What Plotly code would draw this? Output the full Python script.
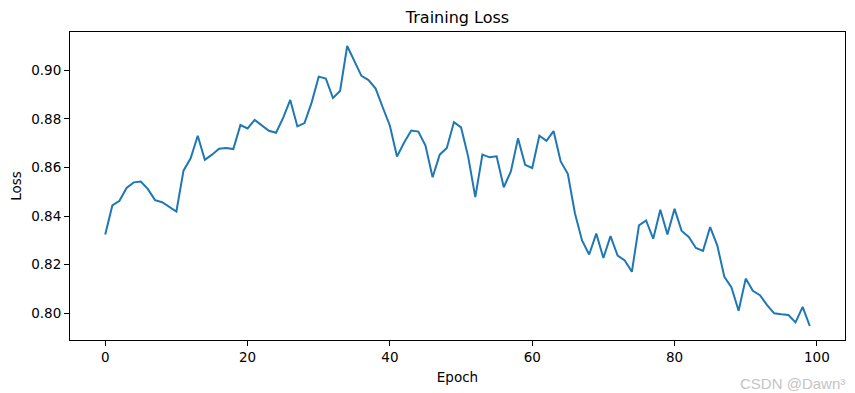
import plotly.graph_objects as go

epochs = list(range(100))
loss = [
    0.8324, 0.8444, 0.8463, 0.8516, 0.8539, 0.8542, 0.8511, 0.8466, 0.8457, 0.8438,
    0.8419, 0.8587, 0.8638, 0.8731, 0.8632, 0.8653, 0.8677, 0.8680, 0.8676, 0.8775,
    0.8761, 0.8796, 0.8775, 0.8751, 0.8743, 0.8804, 0.8878, 0.8769, 0.8783, 0.8867,
    0.8974, 0.8966, 0.8886, 0.8915, 0.9100, 0.9038, 0.8977, 0.8960, 0.8925, 0.8847,
    0.8772, 0.8645, 0.8703, 0.8752, 0.8748, 0.8690, 0.8560, 0.8653, 0.8680, 0.8787,
    0.8765, 0.8645, 0.8478, 0.8653, 0.8642, 0.8646, 0.8519, 0.8584, 0.8720, 0.8611,
    0.8598, 0.8731, 0.8710, 0.8750, 0.8625, 0.8574, 0.8412, 0.8300, 0.8242, 0.8328,
    0.8228, 0.8318, 0.8238, 0.8218, 0.8171, 0.8362, 0.8382, 0.8307, 0.8426, 0.8325,
    0.8430, 0.8339, 0.8314, 0.8269, 0.8257, 0.8355, 0.8280, 0.8150, 0.8107, 0.8011,
    0.8143, 0.8093, 0.8075, 0.8034, 0.8000, 0.7996, 0.7993, 0.7963, 0.8027, 0.7948,
]
x_ticks = [0, 20, 40, 60, 80, 100]
y_ticks = [0.80, 0.82, 0.84, 0.86, 0.88, 0.90]

font = "DejaVu Sans"
fig = go.Figure(go.Scatter(x=epochs, y=loss, mode="lines",
                           line=dict(color="#1f77b4", width=2)))

ymin, ymax = min(loss), max(loss)
pad = (ymax - ymin) * 0.05
xpad = (epochs[-1] - epochs[0]) * 0.05

axis_common = dict(showgrid=False, zeroline=False, showline=True, linecolor="black",
                   linewidth=1, mirror=True, ticks="outside", ticklen=5,
                   tickcolor="black", tickwidth=1, automargin=False,
                   tickfont=dict(family=font, size=13.5, color="black"))

# the page body has an 8px default margin, so the figure is 8px smaller
W, H = 847, 385
ML, MR, MT, MB = 62, 10, 24, 53
PW, PH = W - ML - MR, H - MT - MB
fig.update_layout(
    width=W, height=H,
    margin=dict(l=ML, r=MR, t=MT, b=MB),
    paper_bgcolor="white", plot_bgcolor="white",
    showlegend=False,
    title=dict(text="Training Loss", x=0.5, xref="paper", xanchor="center",
               y=1 - 9.5 / H, yanchor="middle",
               font=dict(family=font, size=16, color="black")),
    xaxis=dict(range=[epochs[0] - xpad, epochs[-1] + xpad], tickvals=x_ticks,
               title=dict(text="Epoch", font=dict(family=font, size=13.5, color="black"),
                          standoff=8),
               **axis_common),
    yaxis=dict(range=[ymin - pad, ymax + pad], tickvals=y_ticks, tickformat=".2f",
               title=dict(text="Loss", font=dict(family=font, size=13.5, color="black"),
                          standoff=8),
               **axis_common),
    annotations=[dict(text="CSDN @Dawn³", xref="paper", yref="paper",
                      x=1 + 2 / PW, y=-43 / PH, xanchor="right", yanchor="middle",
                      showarrow=False,
                      font=dict(family="Liberation Sans", size=15, color="#c4c4c4"))],
)

fig.write_html("out.html")
